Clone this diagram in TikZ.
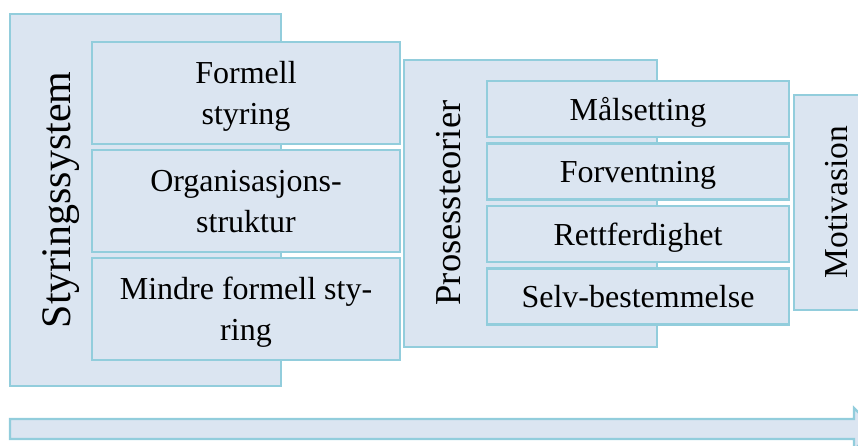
\documentclass[tikz,border=0pt]{standalone}
\usepackage{fontspec}
\setmainfont{Liberation Serif}
\usetikzlibrary{positioning}

\definecolor{boxfill}{RGB}{219,229,241}
\definecolor{boxline}{RGB}{146,205,220}

\tikzset{
  outerbox/.style={draw=boxline, fill=boxfill, line width=2.2pt,
    inner sep=0pt, outer sep=0pt, anchor=north west},
  itembox/.style={outerbox, align=center, text depth=0pt,
    font=\fontsize{32}{41}\selectfont},
}

\begin{document}
\begin{tikzpicture}[x=1pt,y=-1pt]
   \useasboundingbox (0,0) rectangle (858,446);
   \clip (0,0) rectangle (858,446);

   % styringssystem
   \node[outerbox, minimum width=271pt, minimum height=372pt] (styr) at (10,14) {};
   \node[rotate=90, font=\fontsize{42}{50}\selectfont] (styrlabel) at (61,200) {Styringssystem};

   \node[itembox, minimum width=308pt, minimum height=102pt] (s1) at (92,42) {Formell\\styring};
   \node[itembox, minimum width=308pt, minimum height=102pt, below=6pt of s1] (s2) {Organisasjons-\\struktur};
   \node[itembox, minimum width=308pt, minimum height=102pt, below=6pt of s2] (s3) {Mindre formell sty-\\ring};

   % prosessteorier
   \node[outerbox, minimum width=253pt, minimum height=287pt] (pros) at (404,60) {};
   \node[rotate=90, font=\fontsize{36.5}{44}\selectfont] (proslabel) at (449,203) {Prosessteorier};

   \node[itembox, minimum width=302pt, minimum height=56pt] (p1) at (487,81) {Målsetting};
   \node[itembox, minimum width=302pt, minimum height=56pt, below=6.5pt of p1] (p2) {Forventning};
   \node[itembox, minimum width=302pt, minimum height=56pt, below=6.5pt of p2] (p3) {Rettferdighet};
   \node[itembox, minimum width=302pt, minimum height=56pt, below=6.5pt of p3] (p4) {Selv-bestemmelse};

   % motivasjon
   \node[outerbox, minimum width=75pt, minimum height=215pt] (moti) at (794,95) {};
   \node[rotate=90, font=\fontsize{33.5}{40}\selectfont] (motilabel) at (837,202) {Motivasion};

   % arrow along the bottom
   \draw[outerbox] (10,419) -- (854,419) -- (854,408) -- (875,429)
      -- (854,450) -- (854,439) -- (10,439) -- cycle;
\end{tikzpicture}
\end{document}
